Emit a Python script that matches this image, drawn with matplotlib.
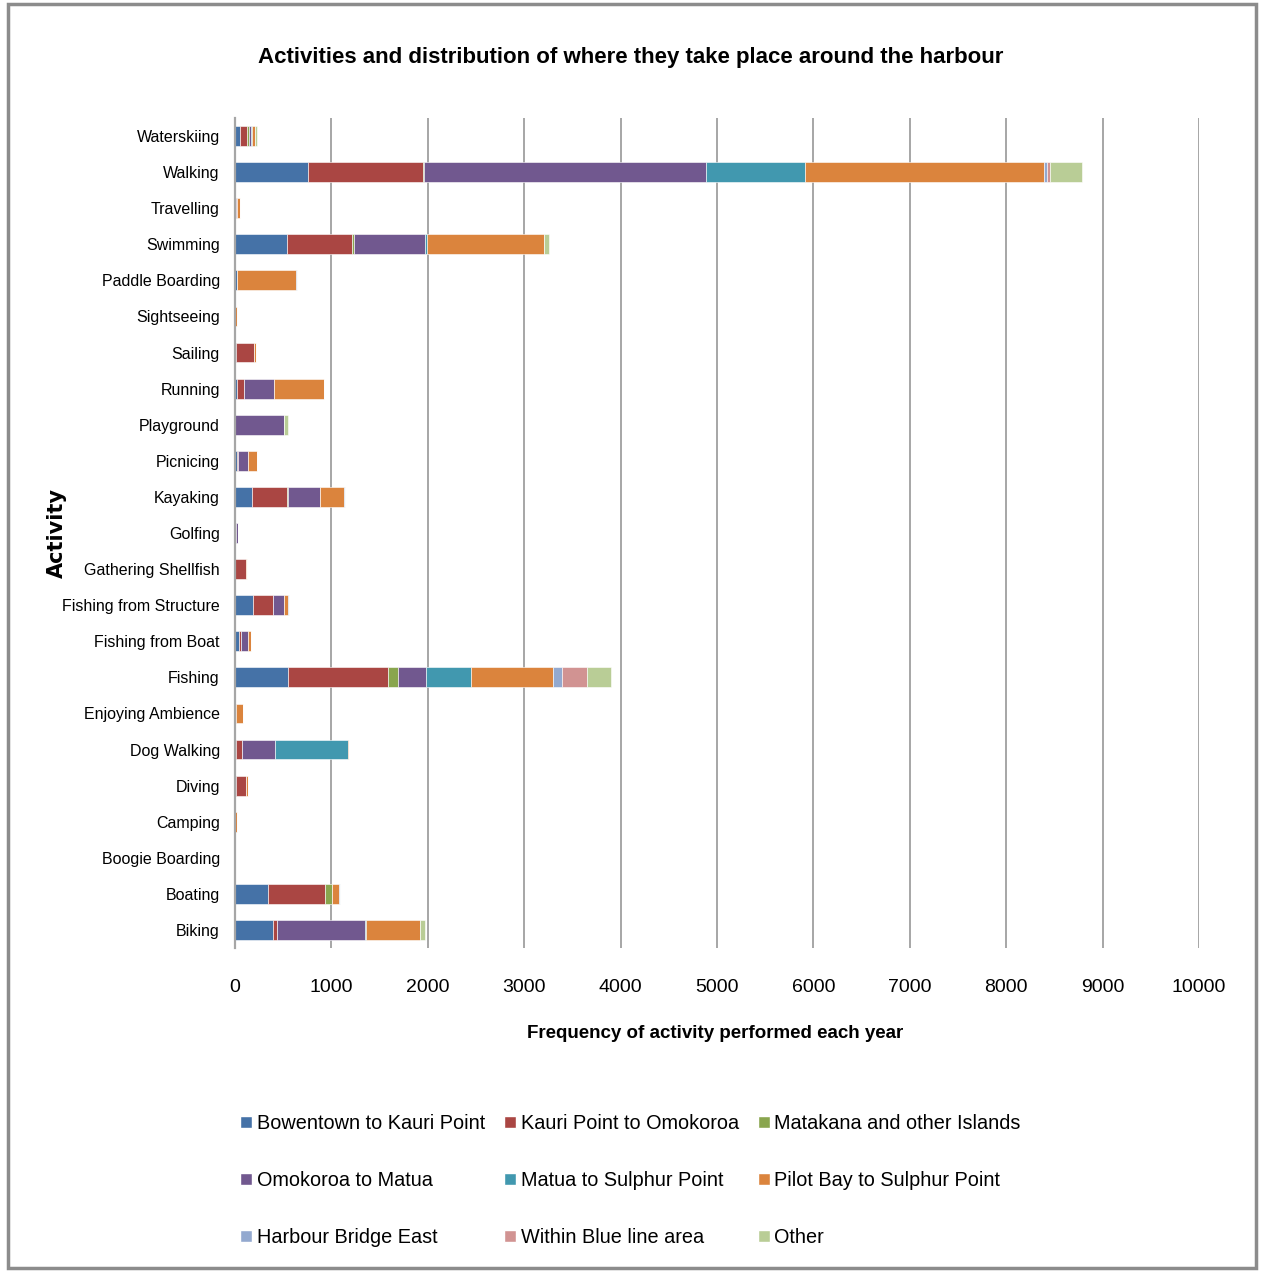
import matplotlib.pyplot as plt
from matplotlib.lines import Line2D
from matplotlib.patches import Rectangle
import numpy as np

plt.rcParams['font.family'] = ['Liberation Sans', 'DejaVu Sans']

activities = ["Waterskiing", "Walking", "Travelling", "Swimming", "Paddle Boarding",
              "Sightseeing", "Sailing", "Running", "Playground", "Picnicing", "Kayaking",
              "Golfing", "Gathering Shellfish", "Fishing from Structure", "Fishing from Boat",
              "Fishing", "Enjoying Ambience", "Dog Walking", "Diving", "Camping",
              "Boogie Boarding", "Boating", "Biking"]

areas = ["Bowentown to Kauri Point", "Kauri Point to Omokoroa", "Matakana and other Islands",
         "Omokoroa to Matua", "Matua to Sulphur Point", "Pilot Bay to Sulphur Point",
         "Harbour Bridge East", "Within Blue line area", "Other"]

# one list per area, same order as activities
bowentown = [55, 757, 15, 536, 21, 0, 5, 17, 0, 17, 180, 10, 3, 190, 41, 553, 5, 5, 5, 0, 0, 346, 391]
kauri = [70, 1193, 0, 678, 0, 0, 195, 80, 0, 18, 356, 0, 108, 201, 21, 1034, 0, 64, 106, 0, 0, 588, 41]
matakana = [15, 10, 0, 24, 0, 0, 0, 0, 0, 0, 14, 0, 0, 0, 0, 104, 0, 0, 0, 0, 0, 69, 0]
omokoroa = [30, 2926, 5, 736, 0, 0, 0, 308, 511, 103, 332, 20, 0, 117, 76, 294, 0, 346, 0, 0, 0, 0, 917]
matua = [10, 1027, 5, 14, 0, 0, 0, 0, 0, 0, 0, 0, 0, 0, 0, 463, 0, 761, 0, 0, 0, 0, 13]
pilot_bay = [25, 2479, 30, 1221, 612, 17, 15, 515, 0, 90, 252, 0, 10, 42, 25, 854, 78, 10, 27, 17, 0, 79, 557]
bridge_east = [0, 30, 0, 0, 10, 0, 0, 0, 0, 0, 10, 0, 0, 10, 0, 93, 0, 0, 0, 0, 0, 10, 0]
blue_line = [5, 30, 0, 0, 0, 0, 0, 0, 0, 0, 0, 0, 0, 0, 0, 253, 0, 0, 0, 0, 0, 0, 0]
other = [15, 330, 0, 48, 0, 0, 0, 0, 36, 0, 0, 0, 0, 0, 0, 252, 0, 0, 0, 0, 0, 0, 52]

series = [bowentown, kauri, matakana, omokoroa, matua, pilot_bay, bridge_east, blue_line, other]
colors = ["#4572A7", "#AA4643", "#89A54E", "#71588F", "#4198AF", "#DB843D",
          "#93A9CF", "#D19392", "#B9CD96"]

fig = plt.figure(figsize=(12.61, 12.71), dpi=100)
ax = fig.add_axes([0.1864, 0.2541, 0.7644, 0.6531])

y = np.arange(len(activities))
left = np.zeros(len(activities))
for vals, col, name in zip(series, colors, areas):
    vals = np.array(vals, dtype=float)
    ax.barh(y, vals, left=left, height=0.55, color=col, label=name,
            edgecolor='white', linewidth=0.4)
    left += vals

ax.set_ylim(len(activities) - 0.5, -0.5)
ax.set_xlim(0, 10000)
ax.set_xticks(np.arange(0, 10001, 1000))
ax.set_yticks(y)
ax.set_yticklabels(activities, fontsize=11.5)
ax.tick_params(axis='x', labelsize=14, length=0, pad=22)
ax.tick_params(axis='y', length=0, pad=11)
ax.grid(axis='x', color='#A6A6A6', linewidth=1.4)
ax.set_axisbelow(True)
for s in ['top', 'right', 'bottom']:
    ax.spines[s].set_visible(False)
ax.spines['left'].set_color('#A6A6A6')
ax.spines['left'].set_linewidth(1.6)

fig.text(0.5, 0.955, "Activities and distribution of where they take place around the harbour",
         ha='center', va='center', fontsize=16, fontweight='bold')
fig.text(0.567, 0.187, "Frequency of activity performed each year",
         ha='center', va='center', fontsize=13.5, fontweight='bold')
fig.text(0.045, 0.581, "Activity", ha='center', va='center', rotation=90,
         fontsize=15, fontweight='bold', family='DejaVu Sans')

order = [0, 3, 6, 1, 4, 7, 2, 5, 8]
handles = [Line2D([], [], marker='s', linestyle='none', markersize=8,
                  markerfacecolor=colors[i], markeredgecolor='white') for i in order]
labels = [areas[i] for i in order]
fig.legend(handles, labels, ncol=3, loc='upper left', bbox_to_anchor=(0.183, 0.131),
           frameon=False, fontsize=14.3, handlelength=0.5, handletextpad=0.3,
           columnspacing=1.0, labelspacing=1.9, borderpad=0)

fig.patches.append(Rectangle((0.006, 0.002), 0.99, 0.995, transform=fig.transFigure,
                             fill=False, edgecolor='#8C8C8C', linewidth=2.5))

fig.savefig("out.png", dpi=100)
